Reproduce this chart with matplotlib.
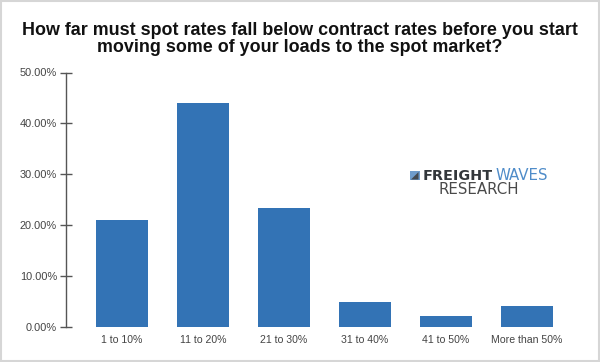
import matplotlib
matplotlib.use("Agg")
import matplotlib.pyplot as plt
from matplotlib.patches import Rectangle, Polygon

categories = ["1 to 10%", "11 to 20%", "21 to 30%", "31 to 40%", "41 to 50%", "More than 50%"]
values = [21.1, 44.0, 23.3, 4.9, 2.1, 4.2]
yticks = [0, 10, 20, 30, 40, 50]
title = "How far must spot rates fall below contract rates before you start\nmoving some of your loads to the spot market?"

W, H = 600, 362
plt.rcParams['font.family'] = ['Liberation Sans', 'DejaVu Sans']
fig = plt.figure(figsize=(W/100, H/100), dpi=100, facecolor='white')
fig.add_artist(Rectangle((0.75/W, 0.75/H), (W-1.5)/W, (H-1.5)/H, transform=fig.transFigure,
                         fc='none', ec='#d6d6d6', lw=1.5))

left, right, top, bottom = 66, 585, 72.5, 327
ax = fig.add_axes([left/W, 1-bottom/H, (right-left)/W, (bottom-top)/H])
ax.bar(range(len(values)), values, width=0.645, color='#3373b5', edgecolor='none')
ax.set_xlim((left-122)/81, (right-122)/81)
ax.set_ylim(0, 50)
ax.set_yticks(yticks, [f"{v:.2f}%" for v in yticks])
ax.set_xticks(range(len(categories)), categories)
for s in ['top', 'right', 'bottom']:
    ax.spines[s].set_visible(False)
ax.spines['left'].set_color('#555555')
ax.spines['left'].set_linewidth(1.0)
ax.tick_params(axis='y', direction='inout', length=8, width=1, color='#555555',
               labelcolor='#444444', labelsize=7.9, pad=2.5)
ax.tick_params(axis='x', length=0, labelcolor='#444444', labelsize=7.6, pad=5.5)
for t in ax.get_yticklabels() + ax.get_xticklabels():
    t.set_clip_on(False)

fig.text(300/W, 1-39/H, title, ha='center', va='center', fontsize=12.9, fontweight='bold',
         color='#111111', linespacing=1.05)

# logo
bx0, by0, s = 410, 171, 9.5
fig.add_artist(Rectangle((bx0/W, 1-(by0+s)/H), s/W, s/H, transform=fig.transFigure, fc='#6f9ccb', ec='none'))
fig.add_artist(Polygon([((bx0+1)/W, 1-(by0+s-1)/H), ((bx0+s-1)/W, 1-(by0+1)/H), ((bx0+s-1)/W, 1-(by0+s-1)/H)],
                       transform=fig.transFigure, fc='#444a50', ec='none'))
logo_font = ['DejaVu Sans']
fig.text(423/W, 1-175.5/H, "FREIGHT", ha='left', va='center', fontsize=10.4, fontweight='bold',
         color='#33373b', family=logo_font)
fig.text(495/W, 1-175.5/H, "WAVES", ha='left', va='center', fontsize=10.8, color='#4f8cc9', family=logo_font)
fig.text(439/W, 1-189/H, "RESEARCH", ha='left', va='center', fontsize=10.8, color='#4a4a4a', family=logo_font)

fig.savefig("out.png", dpi=100, facecolor='white')
